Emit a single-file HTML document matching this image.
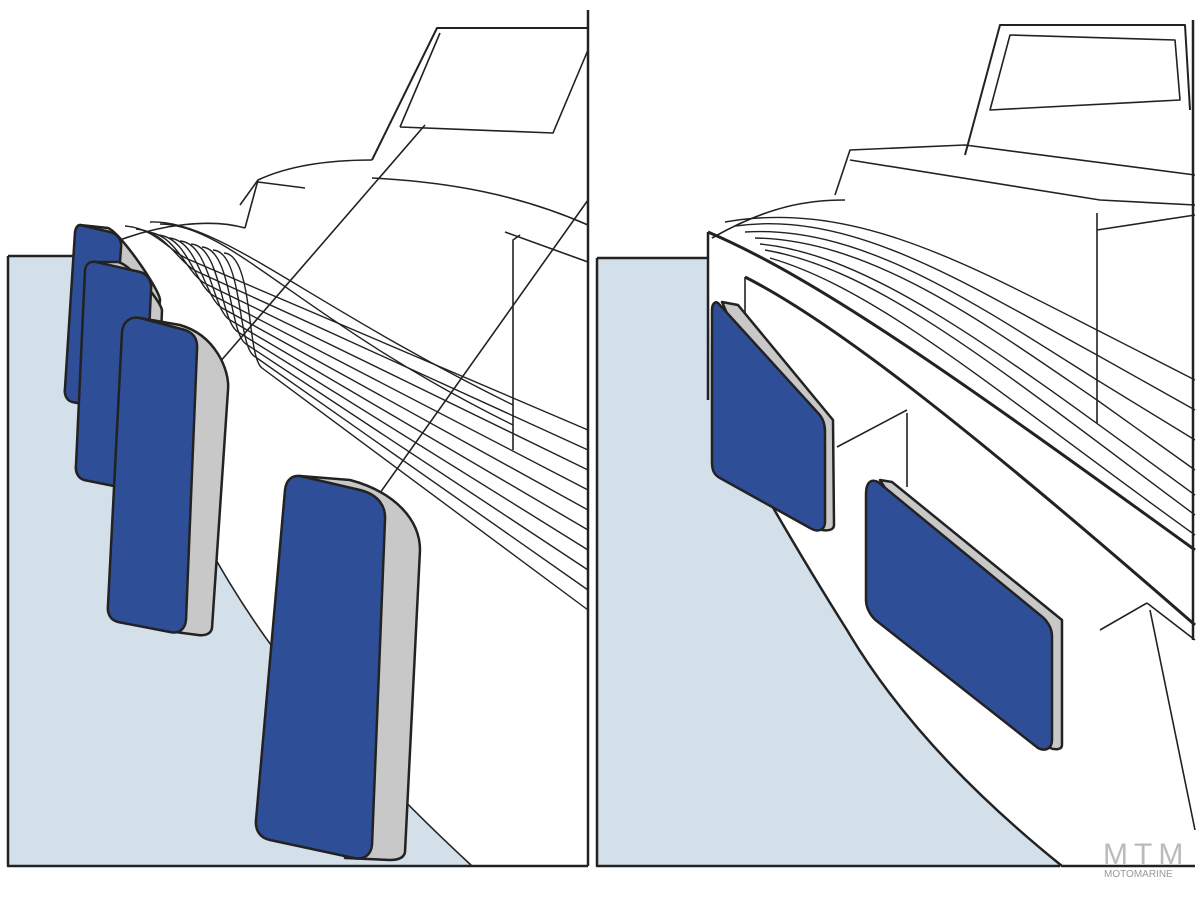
<!DOCTYPE html>
<html><head><meta charset="utf-8"><style>
html,body{margin:0;padding:0;background:#fff;width:1200px;height:900px;overflow:hidden}
svg{display:block}
</style></head><body>
<svg width="1200" height="900" viewBox="0 0 1200 900" xmlns="http://www.w3.org/2000/svg" fill="none" stroke="#222" stroke-width="1.6" stroke-linejoin="round">
<!-- LEFT PANEL -->
<path d="M8 256 H120 L205 540 C280 680 390 790 472 865 H8 Z" fill="#d3e0ea" stroke="none"/>
<path d="M8 256 H80" stroke-width="2.5"/>
<path d="M8 256 V866 H588" stroke-width="2.5"/>
<path d="M588 10 V866" stroke-width="2.5"/>
<path d="M205 540 C280 680 390 790 472 866" stroke-width="1.6"/>
<!-- cabin -->
<path d="M372 160 L437 28 H588" stroke-width="2"/>
<path d="M400 127 L440 33 M400 127 L553 133 L588 50"/>
<path d="M372 160 C330 160 290 165 258 180 L240 205"/>
<path d="M258 180 L245 228 M258 182 L305 188"/>
<path d="M372 178 C450 182 520 195 588 225"/>
<path d="M520 235 L513 240 V450 M505 232 L588 262"/>
<path d="M120 240 C160 225 210 218 245 228"/>
<!-- deck lines -->
<g stroke-width="1.4">
<path d="M150 222 C220 220 300 300 513 405"/>
<path d="M160 224 C230 224 300 320 513 425"/>
<path d="M125 226 C155 228 170 252 190 260 L588 430"/>
<path d="M136 229 C166 231 178 263 198 272 L588 450"/>
<path d="M147 232 C177 234 187 275 206 284 L588 470"/>
<path d="M158 235 C188 237 195 286 214 296 L588 490"/>
<path d="M169 238 C199 240 204 298 222 308 L588 510"/>
<path d="M180 241 C210 243 212 310 230 320 L588 530"/>
<path d="M191 244 C221 246 220 321 238 332 L588 550"/>
<path d="M202 247 C232 249 229 333 246 344 L588 570"/>
<path d="M213 250 C243 252 237 344 254 356 L588 590"/>
<path d="M224 253 C254 255 246 356 262 368 L588 610"/>
</g>
<path d="M200 385 L425 125"/>
<path d="M375 500 L588 200"/>
<!-- fenders left -->
<g stroke-width="2.5">
<path d="M80 225 L108 228 C120 232 160 290 160 300 L150 410 L75 400 C68 399 65 392 66 385 Z" fill="#c8c8c8"/>
<path d="M80 225 L110 232 C118 234 122 240 121 248 L110 398 C109 405 104 408 98 407 L72 402 C66 400 64 394 65 388 L75 232 C76 227 78 225 80 225 Z" fill="#2e4f98"/>
<path d="M95 262 L118 262 C130 264 160 300 162 310 L155 490 L85 480 Z" fill="#c8c8c8"/>
<path d="M96 262 L140 272 C148 274 152 282 151 290 L142 480 C141 487 136 490 129 489 L84 480 C78 478 75 472 76 465 L85 270 C86 264 90 261 96 262 Z" fill="#2e4f98"/>
<path d="M140 318 L180 325 C215 335 230 370 228 390 L212 628 C211 634 205 636 198 635 L160 630 Z" fill="#c8c8c8"/>
<path d="M140 318 L185 330 C194 333 198 340 197 350 L186 620 C185 630 178 634 170 632 L118 622 C110 620 107 613 108 605 L122 332 C123 322 130 316 140 318 Z" fill="#2e4f98"/>
<path d="M300 476 L350 480 C395 492 420 520 420 550 L405 852 C404 858 398 860 390 860 L345 858 Z" fill="#c8c8c8"/>
<path d="M300 476 L360 490 C376 494 386 504 385 520 L372 845 C371 855 364 860 354 858 L270 840 C260 838 255 830 256 820 L285 490 C286 480 292 475 300 476 Z" fill="#2e4f98"/>
</g>
<!-- RIGHT PANEL -->
<path d="M597 258 H708 L712 400 C740 450 790 540 847 630 C900 720 980 800 1060 865 H597 Z" fill="#d3e0ea" stroke="none"/>
<path d="M597 258 H708" stroke-width="2.5"/>
<path d="M597 258 V866 H1060" stroke-width="2.5"/>
<path d="M712 400 C740 450 790 540 847 630 C900 720 980 800 1062 866 H1195" stroke-width="2.5"/>
<path d="M708 232 V400" stroke-width="2.5"/>
<path d="M708 232 C820 280 960 380 1195 550" stroke-width="3"/>
<path d="M745 277 C830 320 960 420 1195 625" stroke-width="3"/>
<path d="M712 238 C770 205 810 200 845 200"/>
<path d="M745 277 V345 M907 413 V487 M837 447 L907 410 M1100 630 L1147 603"/>
<path d="M1147 603 L1195 640 M1150 610 L1195 830"/>
<!-- cabin right -->
<path d="M965 155 L1000 25 H1185 L1190 110" stroke-width="2"/>
<path d="M990 110 L1010 35 L1175 40 L1180 100 Z"/>
<path d="M835 195 L850 150 L965 145 L1195 175"/>
<path d="M850 160 L1100 200 L1195 205"/>
<path d="M1097 213 V423 M1097 230 L1195 215"/>
<path d="M1193 20 V640" stroke-width="2.5"/>
<g stroke-width="1.4">
<path d="M725 222 C850 200 960 260 1097 330 L1195 380"/>
<path d="M735 226 C850 210 960 280 1097 355 L1195 410"/>
<path d="M745 232 C860 225 970 300 1097 380 L1195 440"/>
<path d="M755 238 C870 240 980 320 1097 400 L1195 470"/>
<path d="M760 244 C870 255 990 345 1195 495"/>
<path d="M765 250 C880 270 1000 370 1195 515"/>
<path d="M770 258 C880 290 1000 395 1195 535"/>
</g>
<!-- fenders right -->
<g stroke-width="2.5">
<path d="M722 302 L738 305 L833 420 L834 525 C834 530 828 531 822 530 Z" fill="#c8c8c8"/>
<path d="M718 303 L818 413 C823 418 825 425 825 432 L825 522 C825 530 818 533 810 528 L720 478 C714 475 712 470 712 462 V310 C712 304 715 301 718 303 Z" fill="#2e4f98"/>
<path d="M880 480 L892 482 L1062 620 V745 C1062 750 1055 750 1050 748 Z" fill="#c8c8c8"/>
<path d="M878 482 L1040 615 C1047 620 1052 628 1052 636 V740 C1052 748 1046 752 1038 748 L878 622 C871 617 866 608 866 600 V494 C866 484 870 478 878 482 Z" fill="#2e4f98"/>
</g>
<g font-family="Liberation Sans, sans-serif" stroke="none">
<text x="1103" y="864" font-size="30" fill="#bbb" letter-spacing="6">MTM</text>
<text x="1104" y="877" font-size="10" fill="#999">MOTOMARINE</text>
</g>
</svg>
</body></html>
